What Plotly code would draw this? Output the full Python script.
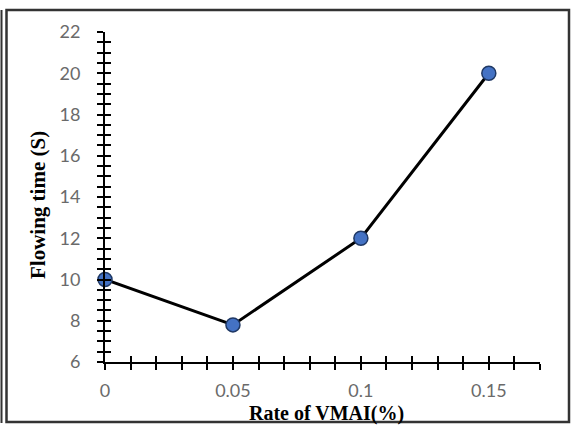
import plotly.graph_objects as go

rate = [0, 0.05, 0.1, 0.15]
flow_time = [10, 7.8, 12, 20]
x_ticks = [0, 0.05, 0.1, 0.15]
x_tick_labels = ["0", "0.05", "0.1", "0.15"]
y_ticks = [6, 8, 10, 12, 14, 16, 18, 20, 22]
x_title = "Rate of VMAI(%)"
y_title = "Flowing time (S)"

W, H = 573, 425
L, R, T, B = 105, 33, 32, 63
pw, ph = W - L - R, H - T - B

def px(x):
    return (x - L) / pw

def py(y):
    return (H - B - y) / ph

fig = go.Figure()
fig.add_trace(go.Scatter(
    x=rate, y=flow_time, mode="lines+markers",
    line=dict(color="black", width=3),
    marker=dict(size=14, color="#4472C4", line=dict(color="#1F3864", width=1.5)),
    cliponaxis=False, showlegend=False,
))
# invisible trace on overlay axes for inner ticks
fig.add_trace(go.Scatter(x=rate, y=flow_time, xaxis="x2", yaxis="y2",
                         mode="markers", marker=dict(opacity=0), showlegend=False,
                         hoverinfo="skip"))

tickfont = dict(family="Lato, Carlito, sans-serif", size=18, color="#6a6a6a")
titlefont = dict(family="Liberation Serif, Times New Roman, serif", size=20, color="black")

fig.update_layout(
    width=W, height=H,
    margin=dict(l=L, r=R, t=T, b=B),
    paper_bgcolor="white", plot_bgcolor="white",
    xaxis=dict(range=[0, 0.17], tickvals=x_ticks, ticktext=x_tick_labels,
               ticks="outside", ticklen=6, tickwidth=2, tickcolor="black",
               minor=dict(dtick=0.01, tick0=0, ticks="outside", ticklen=6, tickwidth=2, tickcolor="black"),
               showline=True, linecolor="black", linewidth=2, showgrid=False, zeroline=False,
               tickfont=tickfont, ticklabelstandoff=5),
    yaxis=dict(range=[6, 22], tickvals=y_ticks,
               ticks="outside", ticklen=6, tickwidth=2, tickcolor="black",
               minor=dict(dtick=0.5, tick0=6, ticks="outside", ticklen=6, tickwidth=2, tickcolor="black"),
               showline=True, linecolor="black", linewidth=2, showgrid=False, zeroline=False,
               tickfont=tickfont, ticklabelstandoff=13),
    xaxis2=dict(overlaying="x", range=[0, 0.17], tickvals=x_ticks, showticklabels=False,
                ticks="inside", ticklen=6, tickwidth=2, tickcolor="black",
                minor=dict(dtick=0.01, tick0=0, ticks="inside", ticklen=6, tickwidth=2, tickcolor="black"),
                showline=False, showgrid=False, zeroline=False, anchor="y2", side="bottom"),
    yaxis2=dict(overlaying="y", range=[6, 22], tickvals=y_ticks, showticklabels=False,
                ticks="inside", ticklen=6, tickwidth=2, tickcolor="black",
                minor=dict(dtick=0.5, tick0=6, ticks="inside", ticklen=6, tickwidth=2, tickcolor="black"),
                showline=False, showgrid=False, zeroline=False, anchor="x2", side="left"),
)

fig.add_annotation(text="<b>" + x_title + "</b>", xref="paper", yref="paper",
                   x=px(326), y=py(413), xanchor="center", yanchor="middle",
                   showarrow=False, font=titlefont)
fig.add_annotation(text="<b>" + y_title + "</b>", xref="paper", yref="paper",
                   x=px(38), y=py(205), xanchor="center", yanchor="middle",
                   textangle=-90, showarrow=False, font=dict(titlefont, size=21))

# outer frame
fig.add_shape(type="rect", xref="paper", yref="paper",
              x0=px(6.5), x1=px(569), y0=py(422), y1=py(10),
              line=dict(color="#333333", width=2.5), layer="below")
fig.add_shape(type="line", xref="paper", yref="paper",
              x0=px(1.5), x1=px(1.5), y0=py(423), y1=py(10),
              line=dict(color="#333333", width=2), layer="below")

fig.write_html("out.html", config={"displayModeBar": False},
               post_script="document.body.style.margin='0';document.body.style.overflow='hidden';")
